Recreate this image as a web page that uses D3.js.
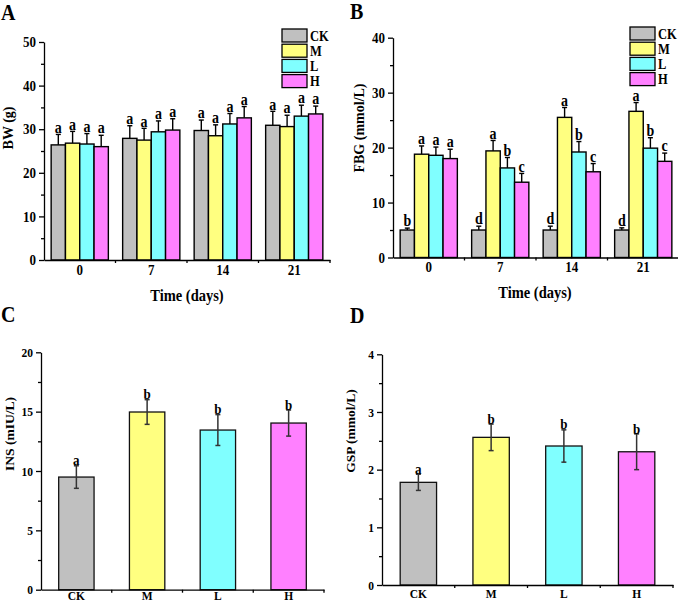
<!DOCTYPE html>
<html><head><meta charset="utf-8">
<script src="https://cdn.jsdelivr.net/npm/d3@7"></script>
<style>
body{margin:0;background:#fff}
svg{display:block;font-family:'Liberation Serif','Times New Roman',serif;font-weight:bold}
.axis path,.axis line{stroke:#000;stroke-width:1.3}
.axis text{font-family:'Liberation Serif','Times New Roman',serif;font-weight:bold;fill:#000}
.st{transform-box:fill-box;transform-origin:center;transform:scaleY(1.15)}
</style></head><body>
<svg id="fig" width="678" height="605"></svg>
<script>
// groups + colours
const groups = ['CK','M','L','H'];
const colors = ['#c0c0c0','#ffff80','#80ffff','#ff80ff'];
const days = ['0','7','14','21'];

// A: body weight (g), rows = day, cols = group
const bwMean = [[26.4,26.8,26.6,26.0],[27.9,27.5,29.4,29.8],[29.7,28.5,31.2,32.6],[30.9,30.6,33.0,33.5]];
const bwErr  = [[2.4,2.7,2.4,2.6],[2.9,2.7,2.5,2.6],[2.4,2.5,2.4,2.6],[3.2,2.6,2.5,1.8]];
const bwSig  = [['a','a','a','a'],['a','a','a','a'],['a','a','a','a'],['a','a','a','a']];

// B: fasting blood glucose (mmol/L)
const fbgMean = [[5.0,18.8,18.6,18.0],[5.0,19.4,16.3,13.7],[5.0,25.5,19.2,15.6],[5.0,26.6,19.9,17.5]];
const fbgErr  = [[0.35,1.5,1.5,1.7],[0.7,1.9,1.9,1.6],[0.7,1.8,1.9,1.5],[0.4,1.6,1.9,1.5]];
const fbgSig  = [['b','a','a','a'],['d','a','b','c'],['d','a','b','c'],['d','a','b','c']];

// C: insulin (mIU/L)
const insMean = [9.49,14.97,13.45,14.04];
const insErr  = [0.95,1.04,1.3,1.1];
const insSig  = ['a','b','b','b'];

// D: glycated serum protein (mmol/L)
const gspMean = [1.78,2.56,2.41,2.31];
const gspErr  = [0.14,0.23,0.28,0.31];
const gspSig  = ['a','b','b','b'];

const svg = d3.select('#fig');

function yAxis(y, x, major, minor, fs){
  svg.append('g').attr('class','axis').attr('transform',`translate(${x},0)`)
    .call(d3.axisLeft(y).tickValues(major).tickSize(5).tickSizeOuter(0).tickPadding(3).tickFormat(d3.format('~g')))
    .selectAll('text').attr('font-size',fs).attr('class','st');
  const m = svg.append('g').attr('class','axis').attr('transform',`translate(${x},0)`)
    .call(d3.axisLeft(y).tickValues(minor).tickSize(3).tickFormat(''));
  m.select('.domain').remove();
}

function xAxis(x, y0, fs, pad){
  svg.append('g').attr('class','axis').attr('transform',`translate(0,${y0})`)
    .call(d3.axisBottom(x).tickSize(0).tickSizeOuter(0).tickPadding(pad))
    .selectAll('text').attr('font-size',fs).attr('class','st');
  const half = x.step()/2;
  svg.append('g').selectAll('line').data(x.domain()).join('line')
    .attr('x1',d=>x(d)+x.bandwidth()/2+half).attr('x2',d=>x(d)+x.bandwidth()/2+half)
    .attr('y1',y0).attr('y2',y0+3).attr('stroke','#000').attr('stroke-width',1.3);
}

// horizontal text (slightly stretched like the source figure)
function htext(txt, x, y, fs, anchor){
  svg.append('text').attr('class','st').attr('x',x).attr('y',y)
    .attr('text-anchor',anchor||'start').attr('font-size',fs).text(txt);
}
function vtext(txt, x, y, fs){
  svg.append('text').attr('transform',`translate(${x},${y}) rotate(-90)`)
    .attr('text-anchor','middle').attr('font-size',fs).text(txt);
}

function grouped(o){
  const x0 = d3.scaleBand().domain(days).range(o.xr).paddingInner(.2).paddingOuter(.1);
  const x1 = d3.scaleBand().domain(groups).range([0,x0.bandwidth()]);
  const y = d3.scaleLinear().domain([0,o.max]).range(o.yr);
  const g = svg.append('g');
  days.forEach((d,di)=>groups.forEach((k,gi)=>{
    const v=o.mean[di][gi], e=o.err[di][gi], cx=x0(d)+x1(k)+x1.bandwidth()/2;
    g.append('line').attr('x1',cx).attr('x2',cx).attr('y1',y(v)).attr('y2',y(v+e)).attr('stroke','#000').attr('stroke-width',1.4);
    g.append('line').attr('x1',cx-2.5).attr('x2',cx+2.5).attr('y1',y(v+e)).attr('y2',y(v+e)).attr('stroke','#000').attr('stroke-width',1.4);
    g.append('rect').attr('x',x0(d)+x1(k)).attr('y',y(v)).attr('width',x1.bandwidth()).attr('height',y(0)-y(v))
      .attr('fill',colors[gi]).attr('stroke','#000').attr('stroke-width',1.4);
    htext(o.sig[di][gi], cx, y(v+e)-2.5, 14, 'middle');
  }));
  yAxis(y, o.xr[0], d3.range(0,o.max+1,o.step), d3.range(o.step/2,o.max,o.step), 13);
  xAxis(x0, o.yr[0], 13, 5);
  // legend
  const lg = svg.append('g').attr('transform',`translate(${o.leg[0]},${o.leg[1]})`);
  groups.forEach((k,i)=>{
    lg.append('rect').attr('x',0).attr('y',i*15.2).attr('width',25).attr('height',13).attr('fill',colors[i]).attr('stroke','#000').attr('stroke-width',1.3);
    lg.append('text').attr('class','st').attr('x',28).attr('y',i*15.2+11).attr('font-size',12.5).text(k);
  });
}

function single(o){
  const x = d3.scaleBand().domain(groups).range(o.xr).paddingInner(.5).paddingOuter(.25);
  const y = d3.scaleLinear().domain([0,o.max]).range(o.yr);
  const g = svg.append('g');
  groups.forEach((k,i)=>{
    const v=o.mean[i], e=o.err[i], cx=x(k)+x.bandwidth()/2;
    g.append('rect').attr('x',x(k)).attr('y',y(v)).attr('width',x.bandwidth()).attr('height',y(0)-y(v))
      .attr('fill',colors[i]).attr('stroke','#111').attr('stroke-width',1.3);
    g.append('line').attr('x1',cx).attr('x2',cx).attr('y1',y(v-e)).attr('y2',y(v+e)).attr('stroke','#333').attr('stroke-width',1.5);
    [v-e,v+e].forEach(t=>g.append('line').attr('x1',cx-2.5).attr('x2',cx+2.5).attr('y1',y(t)).attr('y2',y(t)).attr('stroke','#333').attr('stroke-width',1.5));
    htext(o.sig[i], cx, y(v+e)-1, 13, 'middle');
  });
  yAxis(y, o.xr[0], d3.range(0,o.max+1e-9,o.step), d3.range(o.step/2,o.max,o.step), 11.5);
  xAxis(x, o.yr[0], 11.5, o.pad);
}

grouped({xr:[44,330], yr:[260,42], max:50, step:10, mean:bwMean, err:bwErr, sig:bwSig, leg:[282,29]});
grouped({xr:[393,679], yr:[257.5,37.7], max:40, step:10, mean:fbgMean, err:fbgErr, sig:fbgSig, leg:[630,27]});
single({xr:[41,324], yr:[589.7,352.3], max:20, step:5, mean:insMean, err:insErr, sig:insSig, pad:2});
single({xr:[382,673], yr:[585,354.3], max:4, step:1, mean:gspMean, err:gspErr, sig:gspSig, pad:4});

// axis titles
vtext('BW (g)', 13, 128, 14);
vtext('FBG (mmol/L)', 364, 128, 14);
vtext('INS (mIU/L)', 14, 434, 13.5);
vtext('GSP (mmol/L)', 355, 431, 13.5);
htext('Time (days)', 187, 300, 14.5, 'middle');
htext('Time (days)', 535, 297, 14.5, 'middle');

// panel letters
htext('A', 1, 19, 20); htext('B', 350, 18, 20);
htext('C', 1, 321, 20); htext('D', 350, 322, 20);
</script>
</body></html>
